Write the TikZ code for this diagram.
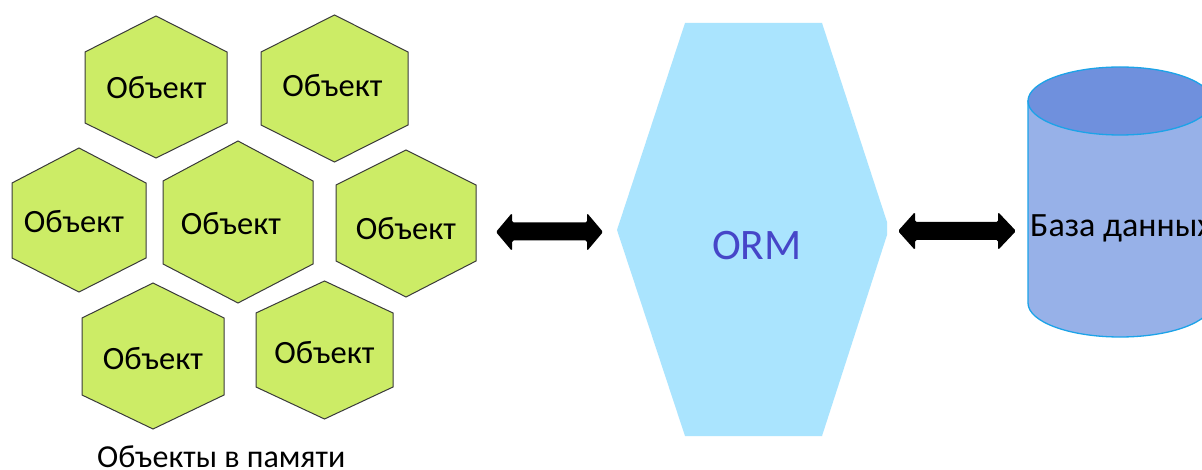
\documentclass[tikz,border=0pt]{standalone}
\usepackage{fontspec}
\setmainfont{Carlito}
\definecolor{hexgreen}{HTML}{CCEC66}
\definecolor{hexline}{HTML}{3A3A3A}
\definecolor{ormfill}{HTML}{AAE4FE}
\definecolor{ormtext}{HTML}{4646C8}
\definecolor{cylbody}{HTML}{97B1E8}
\definecolor{cyltop}{HTML}{6F90DD}
\definecolor{cylline}{HTML}{1CA3E8}
\newcommand\hexa[6]{\filldraw[hexs] ({(#1+#2)/2},#3) -- (#2,#5) -- (#2,#6) -- ({(#1+#2)/2},#4) -- (#1,#6) -- (#1,#5) -- cycle;}
\tikzset{
  hexs/.style={fill=hexgreen, draw=hexline, line width=1pt},
  objlabel/.style={font=\fontsize{32.5}{38}\selectfont, anchor=base, inner sep=0pt},
  fatarrow/.style={fill=black, rounded corners=1.5pt},
}
\begin{document}
\begin{tikzpicture}[x=1pt, y=-1pt]
\clip (0,0) rectangle (1202,470);
\fill[white] (0,0) rectangle (1202,470);
% hexagons
\hexa{85}{227}{16}{158}{52}{123}
\hexa{261}{408}{15}{162}{52}{125}
\hexa{12}{146}{148}{292}{183}{258}
\hexa{163}{313}{141}{303}{181}{264}
\hexa{336}{476}{150}{297}{185}{261}
\hexa{82}{224}{283}{429}{318}{395}
\hexa{256}{393}{281}{419}{313}{387}
\node[objlabel] (o1) at (156.5,99) {Объект};
\node[objlabel] (o2) at (332.5,97) {Объект};
\node[objlabel] (o3) at (74,233) {Объект};
\node[objlabel] (o4) at (231,235) {Объект};
\node[objlabel] (o5) at (406,240) {Объект};
\node[objlabel] (o6) at (153,369) {Объект};
\node[objlabel] (o7) at (324.5,363) {Объект};
\node[font=\fontsize{32}{37}\selectfont, anchor=base west, inner sep=0pt] (mem) at (97,467) {Объекты в памяти};
% ORM
\fill[ormfill] (685,23) -- (822,23) -- (887,222) -- (887,235) -- (822,436) -- (685,436) -- (617,230) -- cycle;
\node[font=\fontsize{43.5}{50}\selectfont, text=ormtext, anchor=base, inner sep=0pt] (orm) at (757,260) {ORM};
% arrows
\coordinate (a1) at (496,232);
\coordinate (a2) at (603,232);
\fill[fatarrow] (a1) -- (512,213) -- (512,222.5) -- (587,222.5) -- (587,213) -- (a2) -- (587,251) -- (587,240.5) -- (512,240.5) -- (512,251) -- cycle;
\coordinate (b1) at (898,231);
\coordinate (b2) at (1016,231);
\fill[fatarrow] (b1) -- (915,212) -- (915,222) -- (998,222) -- (998,212) -- (b2) -- (998,250) -- (998,240) -- (915,240) -- (915,250) -- cycle;
% database cylinder
\filldraw[fill=cylbody, draw=cylline, line width=1.3pt] (1028,101) -- (1028,303) arc[start angle=180, end angle=0, x radius=92, y radius=34] -- (1212,101) -- cycle;
\filldraw[fill=cyltop, draw=cylline, line width=1.3pt] (1120,101) ellipse[x radius=92, y radius=34];
\node[font=\fontsize{34}{39}\selectfont, anchor=base west, inner sep=0pt] (db) at (1030,237) {База данных};
\end{tikzpicture}
\end{document}
